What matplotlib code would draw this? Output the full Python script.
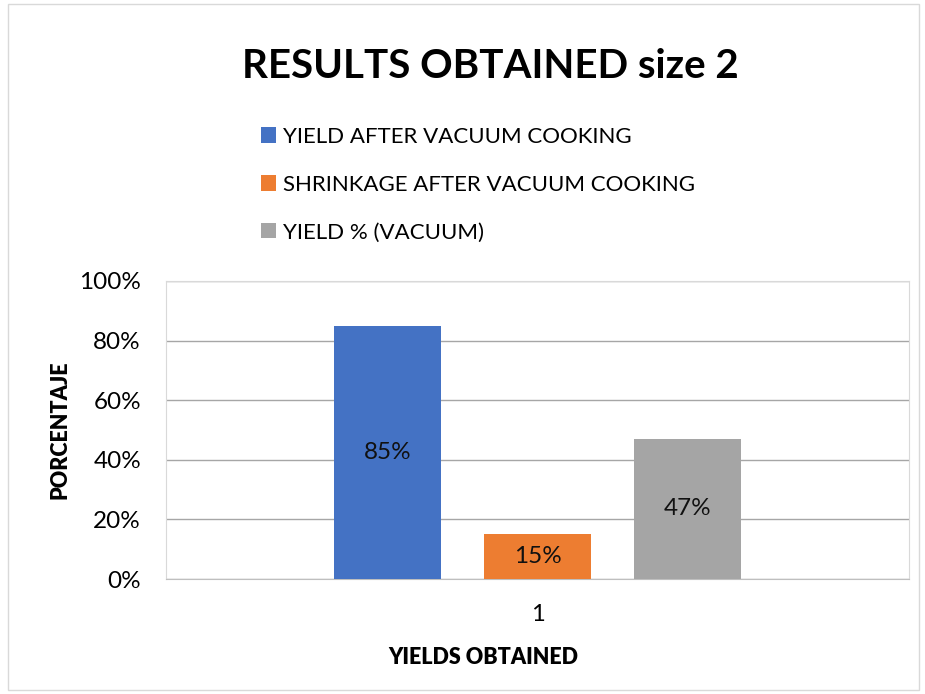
import matplotlib.pyplot as plt
import matplotlib.patches as patches
import matplotlib.ticker as mticker

plt.rcParams["font.family"] = ["Lato", "DejaVu Sans"]

series = [
    "YIELD AFTER VACUUM COOKING",
    "SHRINKAGE AFTER VACUUM COOKING",
    "YIELD % (VACUUM)",
]
values = [0.85, 0.15, 0.47]
labels = ["85%", "15%", "47%"]
colors = ["#4472C4", "#ED7D31", "#A5A5A5"]
category = "1"

W, H = 925, 694
fig = plt.figure(figsize=(W / 100, H / 100), dpi=100)
ax = fig.add_axes([166 / W, 1 - 579 / H, (909 - 166) / W, (579 - 281) / H])

bar_w = 0.143
offsets = [-0.202, 0.0, 0.202]
for name, v, lab, c, off in zip(series, values, labels, colors, offsets):
    ax.bar(off, v, width=bar_w, color=c, label=name, zorder=3)
    ax.text(off, v / 2, lab, ha="center", va="center", fontsize=17.5, color="#111111", zorder=4)

ax.set_xlim(-0.5, 0.5)
ax.set_ylim(0, 1.0)
ax.yaxis.set_major_locator(mticker.MultipleLocator(0.2))
ax.yaxis.set_major_formatter(mticker.PercentFormatter(1.0, decimals=0))
ax.set_xticks([0])
ax.set_xticklabels([category])
ax.grid(axis="y", color="#a6a6a6", linewidth=1, zorder=0)
ax.tick_params(axis="y", length=0, labelsize=17.5, pad=18)
ax.tick_params(axis="x", length=0, labelsize=17, pad=18)
for side in ["top", "right", "left"]:
    ax.spines[side].set_color("#d9d9d9")
ax.spines["bottom"].set_color("#bfbfbf")

ax.set_xlabel("YIELDS OBTAINED", fontsize=15.5, fontweight="heavy")
ax.set_ylabel("PORCENTAJE", fontsize=15.5, fontweight="heavy")
ax.xaxis.set_label_coords((483 - 166) / 743, -(647 - 579) / 298)
ax.yaxis.set_label_coords(-(166 - 70) / 743, 0.5)

fig.text(490 / W, 1 - 67 / H, "RESULTS OBTAINED size 2", ha="center", va="center",
         fontsize=29, fontweight="bold")

fig.legend(loc="upper left", bbox_to_anchor=(252 / W, 1 - 118 / H), frameon=False,
           fontsize=16, handlelength=0.7, handleheight=0.7, handletextpad=0.3,
           labelspacing=1.25, borderaxespad=0)

fig.patches.append(patches.Rectangle((8 / W, 4 / H), (919 - 8) / W, (690 - 4) / H,
                                     transform=fig.transFigure, fill=False,
                                     edgecolor="#d9d9d9", linewidth=1))

plt.savefig("out.png", dpi=100)
plt.close()
